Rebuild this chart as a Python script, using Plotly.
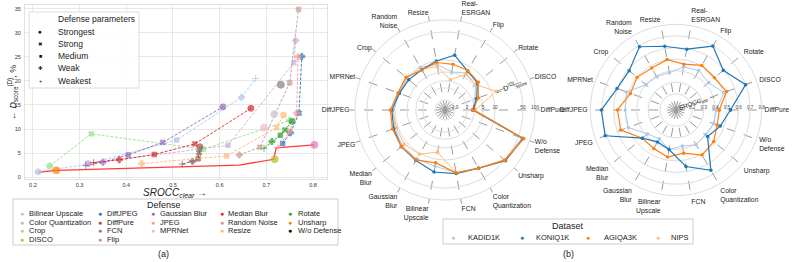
import numpy as np
import plotly.graph_objects as go

W, H = 793, 262
FONT = "Liberation Sans, Arial, DejaVu Sans, sans-serif"


def px(x):
    return min(1.0, max(0.0, x / W))


def py(y):
    return min(1.0, max(0.0, 1 - y / H))


# ---------------- (a) scatter data ----------------
LEVELS = ["Strongest", "Strong", "Medium", "Weak", "Weakest"]

BILINEAR_X = [0.211, 0.318, 0.508, 0.647, 0.677]
BILINEAR_Y = [1.1, 2.7, 7.7, 16.6, 20.5]
BILINEAR_L = ["Strongest", "Strong", "Medium", "Weak", "Weakest"]

COLORQ_X = [0.318, 0.618, 0.759, 0.763]
COLORQ_Y = [2.8, 6.6, 23.8, 28.4]
COLORQ_L = ["Strongest", "Medium", "Strong", "Weak"]

CROP_X = [0.236, 0.325, 0.565, 0.750]
CROP_Y = [2.3, 9.0, 5.8, 11.8]
CROP_L = ["Strongest", "Strong", "Medium", "Weak"]

DISCO_X = [0.718]
DISCO_Y = [3.7]
DISCO_L = ["Strongest"]

DIFFJPEG_X = [0.735, 0.752, 0.770, 0.776]
DIFFJPEG_Y = [7.0, 9.2, 13.3, 25.1]
DIFFJPEG_L = ["Medium", "Weak", "Strong", "Weak"]

DIFFPURE_X = [0.520, 0.542, 0.554, 0.556, 0.558]
DIFFPURE_Y = [2.7, 3.3, 3.8, 5.1, 6.3]
DIFFPURE_L = ["Weakest", "Weak", "Medium", "Strong", "Strongest"]

FCN_X = [0.731]
FCN_Y = [19.2]
FCN_L = ["Strongest"]

FLIP_X = [0.803]
FLIP_Y = [6.7]
FLIP_L = ["Strongest"]

GAUSS_X = [0.313, 0.350, 0.404, 0.478, 0.607]
GAUSS_Y = [2.4, 3.1, 4.6, 7.2, 14.6]
GAUSS_L = ["Weakest", "Weak", "Medium", "Strong", "Strongest"]

JPEG_X = [0.725, 0.750, 0.765, 0.768]
JPEG_Y = [6.2, 9.5, 13.3, 25.0]
JPEG_L = ["Weakest", "Medium", "Weak", "Weak"]

MPRNET_X = [0.695]
MPRNET_Y = [10.3]
MPRNET_L = ["Strongest"]

MEDIAN_X = [0.330, 0.385, 0.460, 0.547, 0.667]
MEDIAN_Y = [3.0, 3.6, 4.7, 6.9, 14.3]
MEDIAN_L = ["Weakest", "Weak", "Medium", "Strong", "Strongest"]

RNOISE_X = [0.642, 0.686, 0.750, 0.769]
RNOISE_Y = [4.6, 6.2, 19.6, 34.9]
RNOISE_L = ["Weak", "Strong", "Medium", "Medium"]

RESIZE_X = [0.433, 0.615, 0.722, 0.737]
RESIZE_Y = [2.8, 4.4, 10.3, 12.9]
RESIZE_L = ["Weak", "Medium", "Strong", "Strongest"]

ROTATE_X = [0.695, 0.712, 0.730, 0.740, 0.755]
ROTATE_Y = [6.0, 7.4, 8.7, 9.8, 11.6]
ROTATE_L = ["Weakest", "Weak", "Medium", "Strong", "Strongest"]

UNSHARP_X = [0.250]
UNSHARP_Y = [1.4]
UNSHARP_L = ["Strongest"]

REALESRGAN_X = [0.717]
REALESRGAN_Y = [13.1]
REALESRGAN_L = ["Strongest"]

WO_X = []
WO_Y = []
WO_L = []

PARETO_X = [0.211, 0.251, 0.642, 0.716, 0.721, 0.803]
PARETO_Y = [1.0, 1.4, 2.5, 3.7, 6.1, 6.7]

X_TICKS = [0.2, 0.3, 0.4, 0.5, 0.6, 0.7, 0.8]
Y_TICKS = [0, 5, 10, 15, 20, 25, 30, 35]

# ---------------- (b) radar data ----------------
CATEGORIES = ["DiffPure", "DISCO", "Rotate", "Flip", "Real-ESRGAN", "Resize",
              "Random Noise", "Crop", "MPRNet", "DiffJPEG", "JPEG", "Median Blur",
              "Gaussian Blur", "Bilinear Upscale", "FCN", "Color Quantization",
              "Unsharp", "W/o Defense"]

D_KADID = [2.7, 3.5, 5.5, 6.5, 5.2, 8.0, 9.5, 9.5, 9.0, 11.0, 12.0, 14.0, 14.5, 15.0, 22.0, 26.0, 50.0, 62.0]
D_KONIQ = [2.8, 3.9, 6.4, 7.5, 13.8, 9.8, 8.1, 8.5, 9.2, 12.0, 13.0, 15.0, 16.0, 21.0, 23.0, 27.0, 53.0, 67.0]
D_AGIQA = [2.8, 4.3, 6.8, 7.8, 8.1, 9.0, 8.0, 10.5, 10.0, 13.0, 14.0, 15.0, 15.5, 12.3, 22.0, 27.0, 50.0, 70.0]
D_NIPS = [3.2, 12.9, 5.5, 6.0, 3.3, 7.0, 8.5, 10.0, 9.5, 11.5, 11.0, 12.0, 10.6, 6.6, 22.0, 27.0, 48.0, 66.0]

S_KONIQ = [0.530, 0.700, 0.593, 0.697, 0.593, 0.619, 0.691, 0.588, 0.602, 0.705, 0.711, 0.439, 0.378, 0.407, 0.556, 0.662, 0.416, 0.467]
S_AGIQA = [0.433, 0.525, 0.493, 0.505, 0.462, 0.502, 0.479, 0.499, 0.479, 0.565, 0.568, 0.439, 0.444, 0.473, 0.439, 0.510, 0.484, 0.439]
S_KADID = [0.410, 0.499, 0.427, 0.453, 0.439, 0.387, 0.393, 0.398, 0.516, 0.499, 0.499, 0.381, 0.347, 0.407, 0.376, 0.407, 0.390, 0.407]

D_TICKS = [1, 2, 3, 5, 10, 50, 100]
D_TICKTEXT = ["1.0", "2", "3", "5", "10", "50", "100"]
S_TICKS = [0.2, 0.3, 0.4, 0.5, 0.6, 0.7, 0.8]
S_TICKTEXT = ["0.2", "0.3", "0.4", "0.5", "0.6", "0.7", "0.8"]

# ---------------- styles ----------------
DEF_COLORS = {
    "Bilinear Upscale": "#aec7e8", "Color Quantization": "#c5b0d5", "Crop": "#98df8a",
    "DISCO": "#bcbd22", "DiffJPEG": "#1f77b4", "DiffPure": "#8c564b", "FCN": "#7f7f7f",
    "Flip": "#e377c2", "Gaussian Blur": "#9467bd", "JPEG": "#ff9896", "MPRNet": "#f7b6d2",
    "Median Blur": "#d62728", "Random Noise": "#c49c94", "Resize": "#ffbb78",
    "Rotate": "#2ca02c", "Unsharp": "#ff7f0e", "W/o Defense": "#000000",
    "Real-ESRGAN": "#c7c7c7",
}
SYMBOLS = {"Strongest": "circle", "Strong": "x", "Medium": "square", "Weak": "cross", "Weakest": "cross-thin-open"}
SIZES = {"Strongest": 6, "Strong": 5, "Medium": 4.5, "Weak": 5, "Weakest": 5}
GLYPHS = {"Strongest": "●", "Strong": "✖", "Medium": "■", "Weak": "✚", "Weakest": "+"}
DS_COLORS = {"KADID1K": "#aec7e8", "KONIQ1K": "#1f77b4", "AGIQA3K": "#ff7f0e", "NIPS": "#ffbb78"}
CAT_LABELS = {"Real-ESRGAN": "Real-<br>ESRGAN", "Random Noise": "Random<br>Noise",
              "Median Blur": "Median<br>Blur", "Gaussian Blur": "Gaussian<br>Blur",
              "Bilinear Upscale": "Bilinear<br>Upscale", "Color Quantization": "Color<br>Quantization",
              "W/o Defense": "W/o<br>Defense"}

series = [
    ("Bilinear Upscale", BILINEAR_X, BILINEAR_Y, BILINEAR_L),
    ("Color Quantization", COLORQ_X, COLORQ_Y, COLORQ_L),
    ("Crop", CROP_X, CROP_Y, CROP_L),
    ("DISCO", DISCO_X, DISCO_Y, DISCO_L),
    ("DiffJPEG", DIFFJPEG_X, DIFFJPEG_Y, DIFFJPEG_L),
    ("DiffPure", DIFFPURE_X, DIFFPURE_Y, DIFFPURE_L),
    ("FCN", FCN_X, FCN_Y, FCN_L),
    ("Flip", FLIP_X, FLIP_Y, FLIP_L),
    ("Gaussian Blur", GAUSS_X, GAUSS_Y, GAUSS_L),
    ("JPEG", JPEG_X, JPEG_Y, JPEG_L),
    ("MPRNet", MPRNET_X, MPRNET_Y, MPRNET_L),
    ("Median Blur", MEDIAN_X, MEDIAN_Y, MEDIAN_L),
    ("Random Noise", RNOISE_X, RNOISE_Y, RNOISE_L),
    ("Resize", RESIZE_X, RESIZE_Y, RESIZE_L),
    ("Rotate", ROTATE_X, ROTATE_Y, ROTATE_L),
    ("Unsharp", UNSHARP_X, UNSHARP_Y, UNSHARP_L),
    ("W/o Defense", WO_X, WO_Y, WO_L),
    ("Real-ESRGAN", REALESRGAN_X, REALESRGAN_Y, REALESRGAN_L),
]

fig = go.Figure()

# pareto line
fig.add_trace(go.Scatter(x=PARETO_X, y=PARETO_Y, mode="lines",
                         line=dict(color="#ff3b3b", width=1.3), showlegend=False,
                         xaxis="x", yaxis="y"))

for name, xs, ys, lv in series:
    if not xs:
        continue
    c = DEF_COLORS[name]
    single = len(xs) == 1
    fig.add_trace(go.Scatter(
        x=xs, y=ys, mode="lines+markers" if not single else "markers",
        line=dict(color=c, width=0.9, dash="3px,1.5px"),
        marker=dict(symbol=[SYMBOLS[l] for l in lv],
                    size=[7 if single else SIZES[l] for l in lv],
                    color=c, line=dict(color=c, width=1)),
        showlegend=False, xaxis="x", yaxis="y"))

# radar 1
radar1 = [("KADID1K", D_KADID), ("NIPS", D_NIPS), ("KONIQ1K", D_KONIQ), ("AGIQA3K", D_AGIQA)]
theta = [CAT_LABELS.get(c, c) for c in CATEGORIES]
for ds, vals in radar1:
    dark = ds in ("KONIQ1K", "AGIQA3K")
    fig.add_trace(go.Scatterpolar(
        r=vals + vals[:1], theta=theta + theta[:1], mode="lines+markers",
        line=dict(color=DS_COLORS[ds], width=1.2 if dark else 1.0),
        marker=dict(size=3.5, color=DS_COLORS[ds]), subplot="polar", showlegend=False))

radar2 = [("KADID1K", S_KADID), ("AGIQA3K", S_AGIQA), ("KONIQ1K", S_KONIQ)]
for ds, vals in radar2:
    dark = ds in ("KONIQ1K", "AGIQA3K")
    fig.add_trace(go.Scatterpolar(
        r=vals + vals[:1], theta=theta + theta[:1], mode="lines+markers",
        line=dict(color=DS_COLORS[ds], width=1.2 if dark else 1.0),
        marker=dict(size=3.5, color=DS_COLORS[ds]), subplot="polar2", showlegend=False))

# ---------------- annotations / shapes ----------------
ann = []
shapes = []


def text(x, y, t, size, xanchor="center", color="#222", angle=0):
    ann.append(dict(x=px(x), y=py(y), xref="paper", yref="paper", text=t, showarrow=False,
                    xanchor=xanchor, yanchor="middle", textangle=angle, borderpad=0,
                    font=dict(size=size, family=FONT, color=color)))


# axis titles (a)
text(175, 193, "<i>SROCC<sub>clear</sub></i> →", 10)
text(12, 93, "← <i>D</i><sub>score</sub><sup>(D)</sup>, %", 9, angle=-90)

# Defense parameters legend
shapes.append(dict(type="rect", xref="paper", yref="paper", x0=px(29), x1=px(139), y0=py(88), y1=py(12),
                   fillcolor="rgba(255,255,255,0.85)", line=dict(color="#dddddd", width=1), layer="above"))
text(57, 19, "Defense parameters", 8.5, xanchor="left")
for i, lv in enumerate(LEVELS):
    yy = 31.5 + 12.3 * i
    text(40, yy, GLYPHS[lv], 5.5 if lv != "Strongest" else 6.5, color="#111")
    text(57, yy, lv, 8.5, xanchor="left")

# Defense legend
shapes.append(dict(type="rect", xref="paper", yref="paper", x0=px(13), x1=px(338), y0=py(245), y1=py(199),
                   fillcolor="white", line=dict(color="#cccccc", width=1)))
text(164, 205, "Defense", 9)
legend_names = sorted(n for n in DEF_COLORS if n != "Real-ESRGAN")
col_counts = [4, 4, 3, 3, 3]
col_mx = [22, 100, 153, 222, 290]
col_tx = [28, 106, 159, 227, 297]
row_y = [213.5, 222, 230.5, 239]
k = 0
for ci, cnt in enumerate(col_counts):
    for ri in range(cnt):
        nm = legend_names[k]
        k += 1
        text(col_mx[ci], row_y[ri], "●", 7, color=DEF_COLORS[nm])
        text(col_tx[ci], row_y[ri], nm, 7.5, xanchor="left")
text(163, 254, "(a)", 9)

# Dataset legend
shapes.append(dict(type="rect", xref="paper", yref="paper", x0=px(443), x1=px(693), y0=py(244), y1=py(219),
                   fillcolor="white", line=dict(color="#cccccc", width=1)))
text(568, 226, "Dataset", 9)
ds_order = ["KADID1K", "KONIQ1K", "AGIQA3K", "NIPS"]
ds_mx = [453, 522, 588, 658]
ds_tx = [467, 535, 603, 670]
for i, ds in enumerate(ds_order):
    text(ds_mx[i], 237.5, "●", 7, color=DS_COLORS[ds])
    text(ds_tx[i], 237.5, ds, 7.5, xanchor="left")
text(568, 254, "(b)", 9)

# radial titles
text(510, 86, "← D<sup>(D)</sup><sub>score</sub>", 7, angle=-20)
text(697, 102, "SROCC<sub>attr</sub> →", 6.5, angle=-20)

# ---------------- layout ----------------
common_ang = dict(direction="counterclockwise", rotation=0, showline=False, ticks="",
                  gridcolor="#9a9a9a", griddash="dash", gridwidth=0.6,
                  tickfont=dict(size=6.8, family=FONT, color="#222"))

fig.update_layout(
    width=W, height=H, margin=dict(l=0, r=0, t=0, b=0),
    paper_bgcolor="white", plot_bgcolor="white", showlegend=False,
    font=dict(family=FONT, color="#222"),
    xaxis=dict(domain=[px(25), px(327)], range=[0.183, 0.83], tickvals=X_TICKS,
               ticktext=[f"{v:.1f}" for v in X_TICKS],
               tickfont=dict(size=5.5, color="#333"), showgrid=True, gridcolor="#e8e8e8",
               zeroline=False, showline=True, linecolor="#e2e2e2", mirror=True, ticks="",
               ticklabelstandoff=0),
    yaxis=dict(domain=[py(179), py(5)], range=[-0.4, 35.8], tickvals=Y_TICKS,
               tickfont=dict(size=5.5, color="#333"), showgrid=True, gridcolor="#e8e8e8",
               zeroline=False, showline=True, linecolor="#e2e2e2", mirror=True, ticks="",
               ticklabelstandoff=2),
    polar=dict(
        domain=dict(x=[px(350), px(540)], y=[py(205), py(15)]),
        bgcolor="white",
        angularaxis=dict(common_ang),
        radialaxis=dict(type="log", range=[np.log10(0.56), np.log10(133)], tickvals=D_TICKS,
                        ticktext=D_TICKTEXT, tickfont=dict(size=4.8, color="#444"),
                        showline=False, gridcolor="#dcdcdc", gridwidth=0.8, angle=0, tickangle=0,
                        ticks="", side="counterclockwise"),
    ),
    polar2=dict(
        domain=dict(x=[px(588), px(764)], y=[py(198), py(22)]),
        bgcolor="white",
        angularaxis=dict(common_ang),
        radialaxis=dict(range=[0.06, 0.82], tickvals=S_TICKS, ticktext=S_TICKTEXT,
                        tickfont=dict(size=4.5, color="#444"),
                        showline=False, gridcolor="#dcdcdc", gridwidth=0.8, angle=0, tickangle=0,
                        ticks="", side="counterclockwise"),
    ),
    annotations=ann, shapes=shapes,
)

# remove the browser's default 8px page margin so the figure sits at the window origin
fig.write_html("out.html", config={"displayModeBar": False},
               post_script="document.body.style.margin='0';document.body.style.padding='0';")
